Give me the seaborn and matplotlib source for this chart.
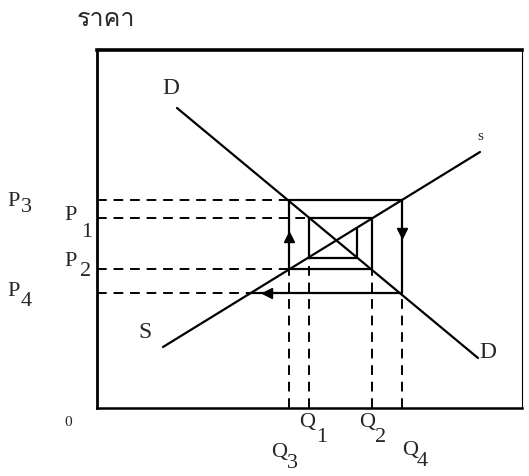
import numpy as np
import pandas as pd
import matplotlib
matplotlib.use("Agg")
import matplotlib.pyplot as plt
from matplotlib import font_manager
from matplotlib.ft2font import FT2Font
import seaborn as sns

# ── Data (quantity / price units) ────────────────────────────────
# demand and supply lines (end points)
D_Q = [8.0, 38.1]
D_P = [30.0, 5.0]
S_Q = [6.6, 38.3]
S_P = [6.1, 25.6]

# cobweb quantities and prices
Q_LEVELS = {"Qi": 26.0, "Q1": 21.2, "Q2": 27.5, "Q3": 19.2, "Q4": 30.5, "Q5": 15.4}
P_LEVELS = {"Pi": 17.9, "Pi2": 15.0, "P1": 19.0, "P2": 13.9, "P3": 20.8, "P4": 11.5}

# cobweb path: alternating vertical / horizontal steps
PATH_Q = ["Qi", "Qi", "Q1", "Q1", "Q2", "Q2", "Q3", "Q3", "Q4", "Q4", "Q5"]
PATH_P = ["Pi", "Pi2", "Pi2", "P1", "P1", "P2", "P2", "P3", "P3", "P4", "P4"]

# dashed guides back to the axes
H_GUIDES = [("P3", "Q3"), ("P1", "Q1"), ("P2", "Q3"), ("P4", "Q5")]
V_GUIDES = [("Q3", "P2"), ("Q1", "Pi2"), ("Q2", "P2"), ("Q4", "P4")]

TITLE = "ราคา"


def thai_font():
    for f in font_manager.fontManager.ttflist:
        try:
            if ord("ร") in FT2Font(f.fname).get_charmap():
                return f.name
        except Exception:
            pass
    return "DejaVu Sans"


sns.set_style("white")
plt.rcParams["font.family"] = ["Liberation Serif", "DejaVu Serif"]

W, H = 529, 476
fig = plt.figure(figsize=(W / 100, H / 100), dpi=100)
ax = fig.add_axes([97 / W, 68 / H, 425 / W, 358 / H])
ax.set_xlim(0, 42.5)
ax.set_ylim(0, 35.8)
ax.set_xticks([])
ax.set_yticks([])
for side, lw in [("top", 2.6), ("left", 2.0), ("bottom", 1.8), ("right", 0.8)]:
    ax.spines[side].set_visible(True)
    ax.spines[side].set_color("black")
    ax.spines[side].set_linewidth(lw)

# demand / supply
sns.lineplot(x=D_Q, y=D_P, ax=ax, color="black", lw=1.6, sort=False, estimator=None)
sns.lineplot(x=S_Q, y=S_P, ax=ax, color="black", lw=1.6, sort=False, estimator=None)

# cobweb path
path = pd.DataFrame({"q": [Q_LEVELS[k] for k in PATH_Q],
                     "p": [P_LEVELS[k] for k in PATH_P]})
sns.lineplot(data=path, x="q", y="p", ax=ax, color="black", lw=1.6,
             sort=False, estimator=None)

dash = (0, (5, 3.5))
for p, q in H_GUIDES:
    ax.plot([0, Q_LEVELS[q]], [P_LEVELS[p]] * 2, color="black", lw=1.4, linestyle=dash)
for q, p in V_GUIDES:
    ax.plot([Q_LEVELS[q]] * 2, [0, P_LEVELS[p]], color="black", lw=1.4, linestyle=dash)

# arrow heads on the outer loop
ax.plot(Q_LEVELS["Q3"], 17.1, marker="^", color="black", ms=7)
ax.plot(Q_LEVELS["Q4"], 17.5, marker="v", color="black", ms=7)
ax.plot(17.0, P_LEVELS["P4"], marker="<", color="black", ms=7)


# ── Labels (placed in pixel units of the figure) ─────────────────
def lab(px, py, s, size=16, family="Liberation Serif", ha="left"):
    fig.text(px / W, 1 - py / H, s, fontsize=size, family=family,
             ha=ha, va="center")


for letter, digit, x0, yl, xd, yd in [
    ("P", "3", 7, 202, 21, 208),
    ("P", "1", 64, 216, 81, 232),
    ("P", "2", 64, 261, 80, 272),
    ("P", "4", 7, 291, 21, 301),
    ("Q", "1", 299, 422, 316, 437),
    ("Q", "2", 359, 422, 375, 437),
    ("Q", "3", 271, 452, 287, 463),
    ("Q", "4", 402, 450, 417, 461),
]:
    lab(x0, yl, letter)
    lab(xd, yd, digit)

lab(64, 422, "0", size=11)
lab(162, 89, "D", size=17)
lab(477, 136, "s", size=11)
lab(138, 333, "S", size=17)
lab(479, 352, "D", size=17)
fig.text(77 / W, 1 - 20 / H, TITLE, fontsize=18, family=[thai_font(), "DejaVu Sans"],
         ha="left", va="center")

fig.savefig("out.png", dpi=100)
